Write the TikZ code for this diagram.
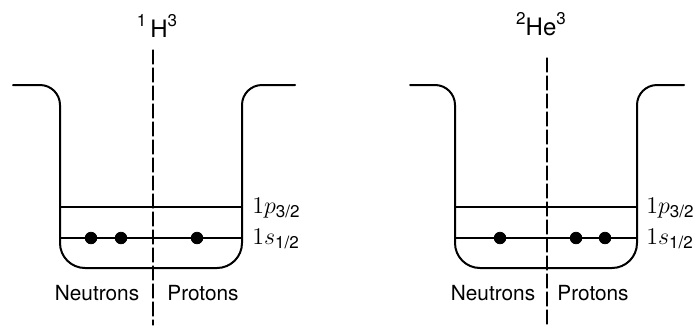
\documentclass[tikz,border=0pt]{standalone}
\usepackage{fontspec}
\newfontfamily\labelfont{TeX Gyre Heros}
\usepackage{tikz}
\tikzstyle{nucleon}=[circle,draw,fill=black,inner sep=0pt,minimum width=5.8pt]
\tikzstyle{well}=[line width=1pt]
\tikzstyle{level}=[line width=0.8pt]
\tikzstyle{axis}=[line width=0.6pt,dash pattern=on 7pt off 2pt]
\tikzstyle{side}=[font=\labelfont\fontsize{10.4}{12}\selectfont]
\tikzstyle{nucleus}=[font=\labelfont\fontsize{12}{14}\selectfont]
\tikzstyle{orbit}=[anchor=west,inner sep=1pt,font=\fontsize{11.5}{13}\selectfont]
\newcommand{\nsup}[1]{\raisebox{0.9ex}{\fontsize{8.5}{10}\selectfont #1}}
\newcommand{\nsub}[1]{\mbox{\labelfont\fontsize{8.5}{10}\selectfont #1}}

\begin{document}
\begin{tikzpicture}[line cap=round,line join=round,x=0.5pt,y=-0.5pt]
\useasboundingbox (0,0) rectangle (700,327);
% tritium
\draw [well] (13,85) [rounded corners=10pt]-- (60,85) -- (60,155) [rounded corners=12.5pt]-- (60,268) -- (242,268) -- (242,155) [rounded corners=10pt]-- (242,85) -- (295,85);
\coordinate (h1) at (153,50);
\coordinate (h2) at (153,325);
\draw [axis] (h1)-- (h2);
\coordinate (hp1) at (60,207);
\coordinate (hp2) at (242,207);
\coordinate (hs1) at (60,238);
\coordinate (hs2) at (242,238);
\draw [level] (hp1)-- (hp2);
\draw [level] (hs1)-- (hs2);
\node [nucleon] (hn1) at (91,238) {};
\node [nucleon] (hn2) at (121,238) {};
\node [nucleon] (hpr1) at (197,238) {};
\node [nucleus] (hname) at (157,26) {\nsup{1}\,H\nsup{3}};
\node [orbit] (hp) at (250,208) {$1p_{\nsub{3/2}}$};
\node [orbit] (hs) at (250,239) {$1s_{\nsub{1/2}}$};
\node [side] (hneu) at (97,293) {Neutrons};
\node [side] (hpro) at (203,293) {Protons};
% helium-3
\draw [well] (410,85) [rounded corners=10pt]-- (455,85) -- (455,155) [rounded corners=12.5pt]-- (455,268) -- (637,268) -- (637,155) [rounded corners=10pt]-- (637,85) -- (684,85);
\coordinate (e1) at (547,58);
\coordinate (e2) at (547,325);
\draw [axis] (e1)-- (e2);
\coordinate (ep1) at (455,207);
\coordinate (ep2) at (637,207);
\coordinate (es1) at (455,238);
\coordinate (es2) at (637,238);
\draw [level] (ep1)-- (ep2);
\draw [level] (es1)-- (es2);
\node [nucleon] (en1) at (500,238) {};
\node [nucleon] (epr1) at (576,238) {};
\node [nucleon] (epr2) at (605,238) {};
\node [nucleus] (ename) at (541,24) {\nsup{2}He\nsup{3}};
\node [orbit] (ep) at (644,208) {$1p_{\nsub{3/2}}$};
\node [orbit] (es) at (644,239) {$1s_{\nsub{1/2}}$};
\node [side] (eneu) at (493,293) {Neutrons};
\node [side] (epro) at (593,293) {Protons};
\end{tikzpicture}
\end{document}
